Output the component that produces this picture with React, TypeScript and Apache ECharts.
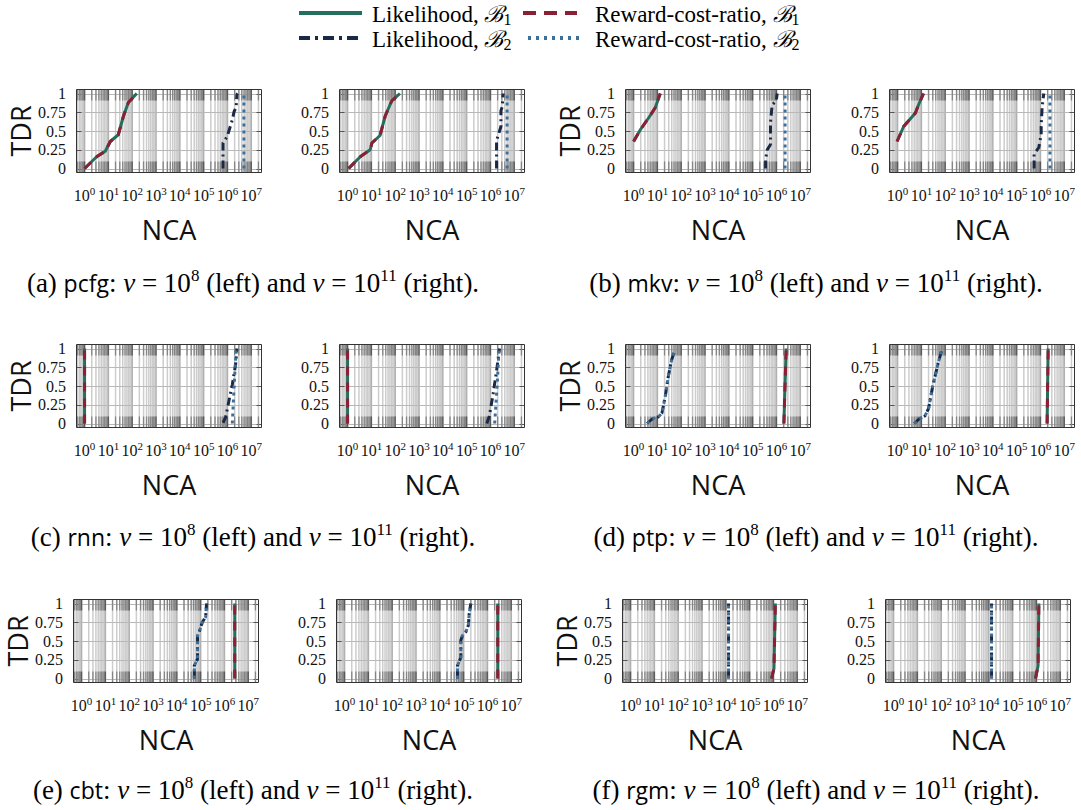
import React, { useEffect, useRef } from "react";
import * as echarts from "echarts";

type Pt = [number, number];

// ---------- data (NCA, TDR) ----------
// (a) pcfg
const pcfg8_lik1: Pt[] = [[1, 0], [3.3, 0.16], [7.4, 0.23], [12, 0.36], [26, 0.45], [43, 0.7], [69, 0.88], [155, 1.0]];
const pcfg8_rcr1: Pt[] = [[1, 0], [3.3, 0.16], [7.4, 0.23], [12, 0.36], [26, 0.45], [43, 0.7], [69, 0.88], [155, 1.0]];
const pcfg8_lik2: Pt[] = [[6.5e5, 0], [6.5e5, 0.34], [9.8e5, 0.43], [1.6e6, 0.65], [1.9e6, 0.76], [2.3e6, 0.81], [2.5e6, 0.99], [2.7e6, 1.0]];
const pcfg8_rcr2: Pt[] = [[4.9e6, 0], [4.9e6, 1.0]];
const pcfg11_lik1: Pt[] = [[1.1, 0], [3.5, 0.16], [8.9, 0.25], [10.5, 0.34], [23, 0.44], [38, 0.7], [71, 0.9], [158, 1.0]];
const pcfg11_rcr1: Pt[] = [[1.1, 0], [3.5, 0.16], [8.9, 0.25], [10.5, 0.34], [23, 0.44], [38, 0.7], [71, 0.9], [158, 1.0]];
const pcfg11_lik2: Pt[] = [[1.8e6, 0], [1.8e6, 0.37], [2.75e6, 0.56], [2.75e6, 0.77], [3.1e6, 0.82], [3.4e6, 1.0]];
const pcfg11_rcr2: Pt[] = [[5.0e6, 0], [5.0e6, 1.0]];
// (b) mkv
const mkv8_lik1: Pt[] = [[1, 0.36], [1.95, 0.52], [4.4, 0.68], [8.1, 0.81], [13.2, 1.0]];
const mkv8_rcr1: Pt[] = [[1, 0.36], [1.95, 0.52], [4.4, 0.68], [8.1, 0.81], [13.2, 1.0]];
const mkv8_lik2: Pt[] = [[3.5e5, 0], [3.5e5, 0.12], [4.1e5, 0.25], [5.6e5, 0.32], [5.6e5, 0.61], [6.6e5, 0.85], [9.8e5, 0.9], [1.07e6, 1.0]];
const mkv8_rcr2: Pt[] = [[2.3e6, 0], [2.3e6, 1.0]];
const mkv11_lik1: Pt[] = [[0.95, 0.36], [1.8, 0.56], [5.6, 0.74], [7.6, 0.85], [12.3, 1.0]];
const mkv11_rcr1: Pt[] = [[0.95, 0.36], [1.8, 0.56], [5.6, 0.74], [7.6, 0.85], [12.3, 1.0]];
const mkv11_lik2: Pt[] = [[5.4e5, 0], [5.4e5, 0.19], [8.5e5, 0.28], [1.07e6, 0.45], [1.07e6, 0.56], [1.17e6, 0.81], [1.26e6, 0.9], [1.38e6, 1.0]];
const mkv11_rcr2: Pt[] = [[2.5e6, 0], [2.5e6, 1.0]];
// (c) rnn
const rnn8_lik1: Pt[] = [[1, 0], [1, 1.0]];
const rnn8_rcr1: Pt[] = [[1, 0], [1, 1.0]];
const rnn8_lik2: Pt[] = [[6.5e5, 0.01], [8.3e5, 0.08], [1.15e6, 0.3], [1.6e6, 0.52], [2.2e6, 0.79], [2.5e6, 1.0]];
const rnn8_rcr2: Pt[] = [[1.6e6, 0], [1.9e6, 0.5], [2.35e6, 1.0]];
const rnn11_lik2: Pt[] = [[7e5, 0], [9e5, 0.1], [1.3e6, 0.4], [1.8e6, 0.7], [2.4e6, 1.0]];
const rnn11_rcr2: Pt[] = [[1.5e6, 0], [1.9e6, 0.5], [2.3e6, 1.0]];
// (d) ptp
const ptp8_lik1: Pt[] = [[2.05e6, 0], [2.55e6, 1.0]];
const ptp8_lik2: Pt[] = [[3.7, 0], [6.0, 0.06], [11.2, 0.09], [15.5, 0.14], [21.4, 0.36], [28.8, 0.63], [39.8, 0.85], [55, 0.99]];
const ptp11_lik1: Pt[] = [[1.9e6, 0], [2.1e6, 1.0]];
const ptp11_lik2: Pt[] = [[5, 0], [8, 0.06], [14, 0.1], [20, 0.2], [30, 0.5], [50, 0.8], [75, 1.0]];
// (e) cbt
const cbt8_lik1: Pt[] = [[2.7e6, 0], [2.7e6, 1.0]];
const cbt8_lik2: Pt[] = [[5.4e4, 0], [5.4e4, 0.17], [7.4e4, 0.26], [7.4e4, 0.57], [8.7e4, 0.62], [1.17e5, 0.75], [1.62e5, 0.82], [1.74e5, 0.97], [1.82e5, 1.0]];
const cbt11_lik1: Pt[] = [[2.7e6, 0], [2.7e6, 1.0]];
const cbt11_lik2: Pt[] = [[5.5e4, 0], [5.5e4, 0.17], [7.6e4, 0.28], [7.6e4, 0.51], [8.9e4, 0.57], [1.23e5, 0.62], [1.58e5, 0.71], [1.7e5, 0.86], [2.0e5, 1.0]];
// (f) rgm
const rgm8_lik1: Pt[] = [[8.3e5, 0], [1.05e6, 0.13], [1.2e6, 1.0]];
const rgm8_lik2: Pt[] = [[1.3e4, 0], [1.3e4, 1.0]];
const rgm11_lik1: Pt[] = [[9.1e5, 0], [1.17e6, 0.17], [1.26e6, 1.0]];
const rgm11_lik2: Pt[] = [[1.3e4, 0], [1.3e4, 1.0]];

const PANELS = [
  { lik1: pcfg8_lik1, rcr1: pcfg8_rcr1, lik2: pcfg8_lik2, rcr2: pcfg8_rcr2 },
  { lik1: pcfg11_lik1, rcr1: pcfg11_rcr1, lik2: pcfg11_lik2, rcr2: pcfg11_rcr2 },
  { lik1: mkv8_lik1, rcr1: mkv8_rcr1, lik2: mkv8_lik2, rcr2: mkv8_rcr2 },
  { lik1: mkv11_lik1, rcr1: mkv11_rcr1, lik2: mkv11_lik2, rcr2: mkv11_rcr2 },
  { lik1: rnn8_lik1, rcr1: rnn8_rcr1, lik2: rnn8_lik2, rcr2: rnn8_rcr2 },
  { lik1: rnn8_lik1, rcr1: rnn8_rcr1, lik2: rnn11_lik2, rcr2: rnn11_rcr2 },
  { lik1: ptp8_lik1, rcr1: ptp8_lik1, lik2: ptp8_lik2, rcr2: ptp8_lik2 },
  { lik1: ptp11_lik1, rcr1: ptp11_lik1, lik2: ptp11_lik2, rcr2: ptp11_lik2 },
  { lik1: cbt8_lik1, rcr1: cbt8_lik1, lik2: cbt8_lik2, rcr2: cbt8_lik2 },
  { lik1: cbt11_lik1, rcr1: cbt11_lik1, lik2: cbt11_lik2, rcr2: cbt11_lik2 },
  { lik1: rgm8_lik1, rcr1: rgm8_lik1, lik2: rgm8_lik2, rcr2: rgm8_lik2 },
  { lik1: rgm11_lik1, rcr1: rgm11_lik1, lik2: rgm11_lik2, rcr2: rgm11_lik2 },
];

const X_TICKS = [1, 10, 100, 1e3, 1e4, 1e5, 1e6, 1e7];
const Y_TICKS = [0, 0.25, 0.5, 0.75, 1];
const CAPTIONS = [
  { id: "(a)", name: "pcfg" },
  { id: "(b)", name: "mkv" },
  { id: "(c)", name: "rnn" },
  { id: "(d)", name: "ptp" },
  { id: "(e)", name: "cbt" },
  { id: "(f)", name: "rgm" },
];

// ---------- styling / layout ----------
const TEAL = "#246e5e";
const RED = "#8b1f33";
const NAVY = "#1a2946";
const BLUE = "#3d6f98";
const SERIF = "'Liberation Serif', 'DejaVu Serif', serif";
const SANS = "'Open Sans', 'Noto Sans', sans-serif";
const XMIN = Math.pow(10, -0.36);
const XMAX = Math.pow(10, 7.45);
const YMIN = -0.06;
const YMAX = 1.06;
const ROW_TOPS = [89, 344, 599];
const ROW_LEFTS = [
  [76, 339, 625, 889],
  [76, 339, 625, 889],
  [73, 336, 622, 885],
];
const PW = 186;
const PH = 84;
const CAPTION_Y = [283, 537, 790];
const CAPTION_X = [253, 816];

const GRID_VALS: { v: number; major: boolean }[] = [];
for (let e = -1; e <= 7; e++) {
  for (let m = 1; m <= 9; m++) {
    const v = m * Math.pow(10, e);
    const lv = Math.log10(v);
    if (lv > -0.36 && lv < 7.45) GRID_VALS.push({ v, major: m === 1 });
  }
}

function renderFrame(params: any, api: any) {
  const cs = params.coordSys;
  const L = Math.round(cs.x) + 0.5;
  const T = Math.round(cs.y) + 0.5;
  const R = Math.round(cs.x + cs.width) - 0.5;
  const B = Math.round(cs.y + cs.height) - 0.5;
  const children: any[] = [];
  GRID_VALS.forEach((g) => {
    const x = api.coord([g.v, 0])[0];
    children.push({ type: "line", shape: { x1: x, y1: T, x2: x, y2: B }, style: { stroke: g.major ? "#b0b0b0" : "#cdcdcd", lineWidth: 1.5 } });
  });
  Y_TICKS.forEach((t) => {
    const y = Math.round(api.coord([1, t])[1]) + 0.5;
    children.push({ type: "line", shape: { x1: L, y1: y, x2: R, y2: y }, style: { stroke: "#b8b8b8", lineWidth: 1 } });
    children.push({ type: "line", shape: { x1: L, y1: y, x2: L + 5, y2: y }, style: { stroke: "#555", lineWidth: 1 } });
    children.push({ type: "line", shape: { x1: R - 5, y1: y, x2: R, y2: y }, style: { stroke: "#555", lineWidth: 1 } });
  });
  GRID_VALS.forEach((g) => {
    const x = api.coord([g.v, 0])[0];
    const len = 11;
    const c = g.major ? "#5a5a5a" : "#858585";
    children.push({ type: "line", shape: { x1: x, y1: T, x2: x, y2: T + len }, style: { stroke: c, lineWidth: 1.3 } });
    children.push({ type: "line", shape: { x1: x, y1: B - len, x2: x, y2: B }, style: { stroke: c, lineWidth: 1.3 } });
  });
  children.push({ type: "rect", shape: { x: L, y: T, width: R - L, height: B - T }, style: { fill: "none", stroke: "#333", lineWidth: 1 } });
  return { type: "group", children };
}

function buildOption() {
  const grid: any[] = [];
  const xAxis: any[] = [];
  const yAxis: any[] = [];
  const series: any[] = [];
  PANELS.forEach((p, i) => {
    const row = Math.floor(i / 4);
    const col = i % 4;
    grid.push({ left: ROW_LEFTS[row][col], top: ROW_TOPS[row], width: PW, height: PH, show: false });
    xAxis.push({
      type: "log",
      logBase: 10,
      gridIndex: i,
      min: XMIN,
      max: XMAX,
      axisLine: { show: false },
      axisTick: { show: false },
      splitLine: { show: false },
      axisLabel: {
        customValues: X_TICKS,
        interval: 0,
        margin: 12,
        formatter: (v: number) => `{b|10}{s|${Math.round(Math.log10(v))}}`,
        rich: {
          b: { fontFamily: SERIF, fontSize: 16, color: "#111", lineHeight: 20 },
          s: { fontFamily: SERIF, fontSize: 11, color: "#111", verticalAlign: "top", lineHeight: 11 },
        },
      },
      name: "NCA",
      nameLocation: "middle",
      nameGap: 43,
      nameTextStyle: { fontFamily: SANS, fontSize: 27, color: "#111" },
    });
    yAxis.push({
      type: "value",
      gridIndex: i,
      min: YMIN,
      max: YMAX,
      axisLine: { show: false },
      axisTick: { show: false },
      splitLine: { show: false },
      axisLabel: { customValues: Y_TICKS, fontFamily: SERIF, fontSize: 16, color: "#111", margin: 10 },
      name: col === 0 || col === 2 ? "TDR" : "",
      nameLocation: "middle",
      nameRotate: 90,
      nameGap: 42,
      nameTextStyle: { fontFamily: SANS, fontSize: 27, color: "#111" },
    });
    series.push({
      type: "custom",
      xAxisIndex: i,
      yAxisIndex: i,
      silent: true,
      z: 1,
      data: [[1, 0]],
      renderItem: renderFrame,
    });
    const mk = (name: string, data: Pt[], color: string, dash: any, z: number) => ({
      type: "line",
      name,
      xAxisIndex: i,
      yAxisIndex: i,
      data,
      symbol: "none",
      z,
      lineStyle: { color, width: 3, type: dash },
    });
    series.push(mk("Likelihood, B1", p.lik1, TEAL, "solid", 3));
    series.push(mk("Reward-cost-ratio, B1", p.rcr1, RED, [9, 7], 4));
    series.push(mk("Likelihood, B2", p.lik2, NAVY, [8, 4, 2, 4], 5));
    series.push(mk("Reward-cost-ratio, B2", p.rcr2, BLUE, [3, 4], 6));
  });

  const legendRich = {
    t: { fontFamily: SERIF, fontSize: 23, color: "#111", lineHeight: 26 },
    b: { fontFamily: SERIF, fontSize: 23, fontStyle: "italic", color: "#111", lineHeight: 26 },
    u: { fontFamily: SERIF, fontSize: 16, color: "#111", verticalAlign: "bottom", lineHeight: 16 },
  };
  const graphic: any[] = [
    { type: "line", shape: { x1: 299, y1: 13, x2: 362, y2: 13 }, style: { stroke: TEAL, lineWidth: 4 } },
    { type: "text", x: 372, y: 14, style: { text: "{t|Likelihood, }{b|ℬ}{u|1}", rich: legendRich, verticalAlign: "middle" } },
    { type: "line", shape: { x1: 523, y1: 13, x2: 577, y2: 13 }, style: { stroke: RED, lineWidth: 4, lineDash: [13, 8] } },
    { type: "text", x: 595, y: 14, style: { text: "{t|Reward-cost-ratio, }{b|ℬ}{u|1}", rich: legendRich, verticalAlign: "middle" } },
    { type: "line", shape: { x1: 299, y1: 38, x2: 362, y2: 38 }, style: { stroke: NAVY, lineWidth: 4, lineDash: [11, 5, 3, 5] } },
    { type: "text", x: 372, y: 39, style: { text: "{t|Likelihood, }{b|ℬ}{u|2}", rich: legendRich, verticalAlign: "middle" } },
    { type: "line", shape: { x1: 528, y1: 38, x2: 582, y2: 38 }, style: { stroke: BLUE, lineWidth: 4, lineDash: [3, 5] } },
    { type: "text", x: 595, y: 39, style: { text: "{t|Reward-cost-ratio, }{b|ℬ}{u|2}", rich: legendRich, verticalAlign: "middle" } },
  ];
  const capRich = {
    t: { fontFamily: SERIF, fontSize: 27, color: "#111", lineHeight: 32 },
    f: { fontFamily: SANS, fontSize: 23, color: "#111", lineHeight: 32 },
    i: { fontFamily: SERIF, fontSize: 27, fontStyle: "italic", color: "#111", lineHeight: 32 },
    p: { fontFamily: SERIF, fontSize: 17, color: "#111", verticalAlign: "top", lineHeight: 17 },
  };
  CAPTIONS.forEach((c, k) => {
    const row = Math.floor(k / 2);
    const col = k % 2;
    graphic.push({
      type: "text",
      x: CAPTION_X[col],
      y: CAPTION_Y[row],
      style: {
        text: `{t|${c.id} }{f|${c.name}}{t|: }{i|ν}{t| = 10}{p|8}{t| (left) and }{i|ν}{t| = 10}{p|11}{t| (right).}`,
        rich: capRich,
        align: "center",
        verticalAlign: "middle",
      },
    });
  });

  return { animation: false, backgroundColor: "#fff", grid, xAxis, yAxis, series, graphic };
}

export default function App() {
  const ref = useRef<HTMLDivElement>(null);
  useEffect(() => {
    const chart = echarts.init(ref.current!, undefined, { renderer: "svg", width: 1081, height: 810 });
    chart.setOption(buildOption() as any);
    return () => chart.dispose();
  }, []);
  return <div ref={ref} style={{ position: "absolute", left: 0, top: 0, width: 1081, height: 810, background: "#fff" }} />;
}
